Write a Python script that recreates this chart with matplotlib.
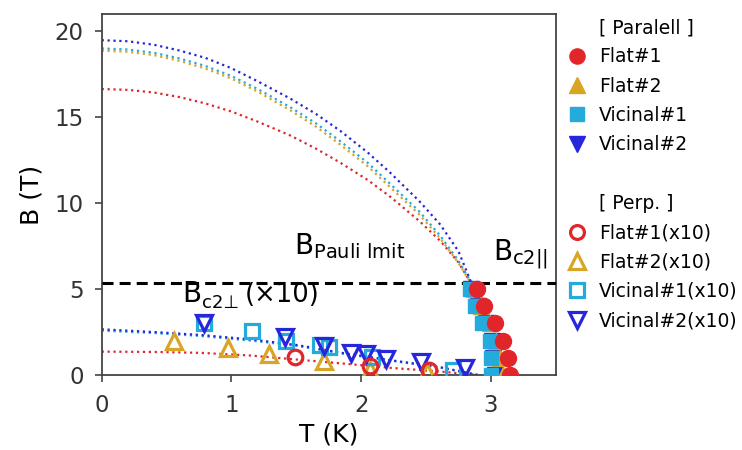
import numpy as np
import matplotlib
matplotlib.use("Agg")
from matplotlib import pyplot as plt
from matplotlib.lines import Line2D

plt.rcParams['font.family'] = ['DejaVu Sans']
plt.rcParams['mathtext.fontset'] = 'dejavusans'

c_red = '#e1262b'
c_gold = '#d9a524'
c_cyan = '#25aadc'
c_blue = '#2626dc'

# Bc2 parallel (T in K, B in T)
B_par = [5, 4, 3, 2, 1, 0]
T_par_f1 = [2.89, 2.95, 3.03, 3.09, 3.13, 3.15]
T_par_f2 = [2.87, 2.92, 2.99, 3.04, 3.07, 3.09]
T_par_v1 = [2.84, 2.88, 2.93, 2.99, 3.00, 3.00]
T_par_v2 = [2.85, 2.90, 2.96, 3.01, 3.02, 3.03]

# Bc2 perpendicular, already multiplied by 10
T_perp_f1 = [1.49, 2.07, 2.52]
B_perp_f1 = [1.07, 0.52, 0.29]
T_perp_f2 = [0.56, 0.97, 1.29, 1.71, 2.07, 2.51]
B_perp_f2 = [2.0, 1.55, 1.25, 0.8, 0.3, 0.2]
T_perp_v1 = [0.79, 1.16, 1.42, 1.68, 1.75, 2.08, 2.71]
B_perp_v1 = [3.05, 2.55, 1.95, 1.75, 1.6, 1.07, 0.3]
T_perp_v2 = [0.79, 1.41, 1.71, 1.92, 2.04, 2.19, 2.46, 2.80]
B_perp_v2 = [3.0, 2.2, 1.7, 1.3, 1.2, 0.95, 0.75, 0.4]

# GL fit curves
T_fit_par = [0, 0.2, 0.4, 0.6, 0.8, 1.0, 1.2, 1.45, 1.65, 1.84, 2.05, 2.22, 2.45, 2.61, 2.75, 2.85]
fit_par_v2 = [19.48, 19.42, 19.22, 18.88, 18.45, 17.85, 17.1, 16.1, 15.2, 14.2, 12.95, 11.8, 10.1, 8.75, 7.2, 5.35]
fit_par_v1 = [19.0, 18.94, 18.75, 18.42, 17.98, 17.4, 16.65, 15.6, 14.65, 13.6, 12.35, 11.15, 9.5, 8.1, 6.65, 5.35]
fit_par_f2 = [18.87, 18.81, 18.62, 18.28, 17.83, 17.25, 16.5, 15.42, 14.46, 13.4, 12.15, 10.95, 9.33, 7.95, 6.52, 5.3]
fit_par_f1 = [16.64, 16.59, 16.44, 16.17, 15.8, 15.33, 14.75, 13.95, 13.18, 12.35, 11.35, 10.4, 8.95, 7.8, 6.55, 5.3]

T_fit_perp = [0, 0.4, 0.76, 1.15, 1.5, 1.84, 2.22, 2.61, 2.9]
fit_perp_v2 = [2.66, 2.5, 2.33, 2.07, 1.75, 1.3, 0.87, 0.45, 0.0]
fit_perp_v1 = [2.58, 2.44, 2.27, 2.0, 1.7, 1.26, 0.84, 0.43, 0.0]
fit_perp_f1 = [1.36, 1.34, 1.29, 1.13, 0.9, 0.68, 0.42, 0.2, 0.0]

B_pauli = 5.35

fig = plt.figure(figsize=(7.42, 4.5), dpi=100)
ax = fig.add_axes([0.137, 0.1667, 0.612, 0.802])

lw_fit = 1.6
ax.plot(T_fit_par, fit_par_f1, ':', color=c_red, lw=lw_fit, zorder=2)
ax.plot(T_fit_par, fit_par_f2, ':', color=c_gold, lw=lw_fit, zorder=2)
ax.plot(T_fit_par, fit_par_v1, ':', color=c_cyan, lw=lw_fit, zorder=2)
ax.plot(T_fit_par, fit_par_v2, ':', color=c_blue, lw=lw_fit, zorder=2)
ax.plot(T_fit_perp, fit_perp_f1, ':', color=c_red, lw=lw_fit, zorder=2)
ax.plot(T_fit_perp, fit_perp_v1, ':', color=c_cyan, lw=lw_fit, zorder=2)
ax.plot(T_fit_perp, fit_perp_v2, ':', color=c_blue, lw=lw_fit, zorder=2)

ax.axhline(B_pauli, color='k', lw=2.2, ls=(0, (3.6, 2.0)), zorder=3)

ms = 11.5
h_v2, = ax.plot(T_par_v2, B_par, 'v', color=c_blue, ms=ms, ls='none', zorder=4)
h_f2, = ax.plot(T_par_f2, B_par, '^', color=c_gold, ms=ms, ls='none', zorder=5)
h_v1, = ax.plot(T_par_v1, B_par, 's', color=c_cyan, ms=ms - 1, ls='none', zorder=6)
h_f1, = ax.plot(T_par_f1, B_par, 'o', color=c_red, ms=ms, ls='none', zorder=7)

mew = 2.3
p_f2, = ax.plot(T_perp_f2, B_perp_f2, '^', mfc='none', mec=c_gold, mew=mew, ms=ms, ls='none', zorder=4)
p_v1, = ax.plot(T_perp_v1, B_perp_v1, 's', mfc='none', mec=c_cyan, mew=mew, ms=ms - 1.5, ls='none', zorder=5)
p_v2, = ax.plot(T_perp_v2, B_perp_v2, 'v', mfc='none', mec=c_blue, mew=mew, ms=ms, ls='none', zorder=6)
p_f1, = ax.plot(T_perp_f1, B_perp_f1, 'o', mfc='none', mec=c_red, mew=mew, ms=ms - 1, ls='none', zorder=7)

ax.text(1.48, 7.0, r'$\mathrm{B}_{\mathrm{Pauli\ lmit}}$', fontsize=20)
ax.text(3.02, 6.7, r'$\mathrm{B}_{\mathrm{c2||}}$', fontsize=20)
# B_c2⊥ label built from plain text pieces
ax.text(0.62, 4.27, 'B', fontsize=20)
ax.annotate('c2⊥', xy=(0.62, 4.27), xytext=(14, -4.5), textcoords='offset points',
            fontsize=13, va='baseline')
ax.text(1.10, 4.27, '(×10)', fontsize=18.5)

ax.set_xlim(0, 3.5)
ax.set_ylim(0, 21)
ax.set_xticks([0, 1, 2, 3])
ax.set_yticks([0, 5, 10, 15, 20])
ax.tick_params(direction='out', length=5, width=1.2, labelsize=16.5,
               color='#444444', labelcolor='#333333')
ax.tick_params(axis='x', pad=9)
ax.tick_params(axis='y', pad=8)
for s in ax.spines.values():
    s.set_color('#444444')
    s.set_linewidth(1.3)
ax.set_xlabel('T (K)', fontsize=18, labelpad=4)
ax.set_ylabel('B (T)', fontsize=18, labelpad=8)

blank = Line2D([], [], ls='none', marker='none')
handles = [blank, h_f1, h_f2, h_v1, h_v2, blank, blank, p_f1, p_f2, p_v1, p_v2]
labels = ['[ Paralell ]', 'Flat#1', 'Flat#2', 'Vicinal#1', 'Vicinal#2', ' ',
          '[ Perp. ]', 'Flat#1(x10)', 'Flat#2(x10)', 'Vicinal#1(x10)', 'Vicinal#2(x10)']
fig.legend(handles, labels, loc='upper left', bbox_to_anchor=(568 / 742, 1 - 18 / 450),
           bbox_transform=fig.transFigure, frameon=False, fontsize=13.5,
           handlelength=1.0, handletextpad=0.65, labelspacing=0.55,
           borderpad=0, borderaxespad=0, markerscale=0.95)

fig.savefig('out.png', dpi=100)
